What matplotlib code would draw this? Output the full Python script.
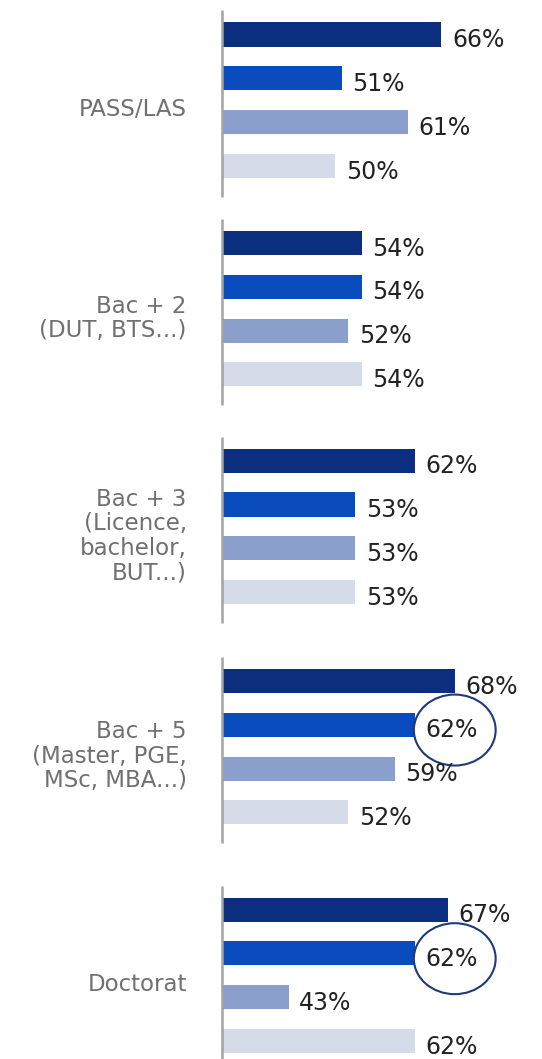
import matplotlib
matplotlib.use("Agg")
import matplotlib.pyplot as plt
from matplotlib.patches import Ellipse

plt.rcParams['font.family'] = ['DejaVu Sans']

# ---- data ----
categories = ["PASS/LAS", "Bac + 2\n(DUT, BTS...)", "Bac + 3\n(Licence,\nbachelor,\nBUT...)",
              "Bac + 5\n(Master, PGE,\nMSc, MBA...)", "Doctorat"]
series1 = [66, 54, 62, 68, 67]
series2 = [51, 54, 53, 62, 62]
series3 = [61, 52, 53, 59, 43]
series4 = [50, 54, 53, 52, 62]
series_colors = ["#0b2e7e", "#0a4cbd", "#8b9fcd", "#d5dbe9"]
highlight = [(3, 1), (4, 1)]  # (group, series) circled labels

series = [series1, series2, series3, series4]

# ---- layout ----
W, H = 542, 1059
fig = plt.figure(figsize=(W / 100, H / 100), dpi=100)
ax = fig.add_axes([0, 0, 1, 1])
base = 33.0
px_per_unit = 6.65
xmin = base - 222 / px_per_unit
xmax = xmin + W / px_per_unit
ax.set_xlim(xmin, xmax)
unit_px = 43.8
ytop = -34.5 / unit_px
ax.set_ylim(ytop + H / unit_px, ytop)
ax.axis('off')

group_pos = [0, 4.76, 9.73, 14.76, 19.98]
bar_h = 0.55
for g, cat in enumerate(categories):
    y0 = group_pos[g]
    for j, s in enumerate(series):
        v = s[g]
        y = y0 + j
        ax.barh(y, v - base, left=base, height=bar_h, color=series_colors[j], zorder=2)
        tx = v + 1.6
        ax.text(tx, y + 0.13, f"{v}%", ha='left', va='center', fontsize=17,
                color='#222222', zorder=5)
        if (g, j) in highlight:
            e = Ellipse((tx + 4.4, y + 0.12), width=12.3, height=1.62,
                        facecolor='white', edgecolor='#1f3a78', lw=1.5, zorder=4)
            ax.add_patch(e)
    ax.plot([base, base], [y0 - 0.55, y0 + 3.7], color='#a3a3a3', lw=1.8, zorder=3,
            solid_capstyle='butt')
    ax.text(base - 5.3, y0 + 1.72, cat, ha='right', va='center', fontsize=16.5,
            color='#707070', multialignment='right', linespacing=1.08)

fig.savefig("out.png", dpi=100)
